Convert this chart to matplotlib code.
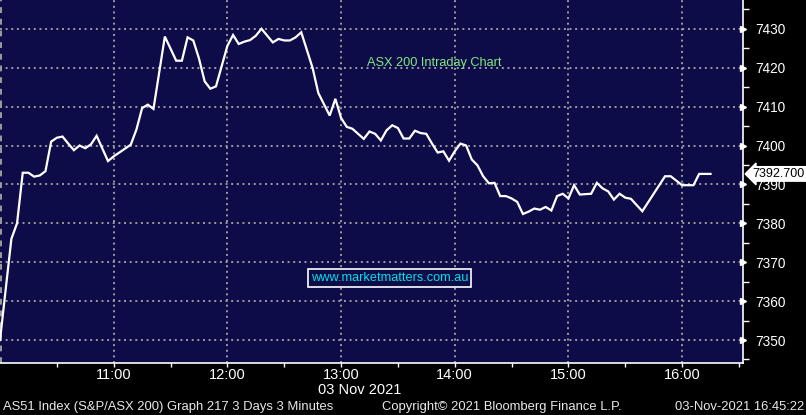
import matplotlib.pyplot as plt
from matplotlib.ticker import FixedLocator, MultipleLocator
from matplotlib.transforms import blended_transform_factory

# minutos desde as 10:00 (barras de 3 minutos) e nivel do indice
minutos = [0, 6, 9, 12, 15, 18, 21, 24, 27, 30, 33, 36, 39, 42, 45, 48, 51, 57, 60,
           63, 69, 72, 75, 78, 81, 87, 93, 96, 99, 102, 105, 108, 111, 114, 120,
           123, 126, 129, 132, 135, 138, 144, 147, 150, 153, 156, 159, 165, 168,
           174, 177, 180, 183, 186, 192, 195, 198, 201, 204, 207, 210, 213, 216,
           219, 222, 225, 228, 231, 234, 237, 240, 243, 246, 249, 252, 255, 258,
           261, 264, 267, 270, 273, 276, 279, 282, 285, 288, 291, 294, 297, 300,
           303, 306, 312, 315, 318, 321, 324, 327, 330, 333, 339, 345, 351, 354,
           360, 366, 369, 375]
niveis = [7350.0, 7376.0, 7380.0, 7393.0, 7393.0, 7392.0, 7392.3, 7393.4, 7401.0,
          7402.0, 7402.3, 7400.5, 7398.8, 7400.0, 7399.3, 7400.3, 7402.5, 7396.0,
          7397.2, 7398.2, 7400.2, 7404.1, 7409.6, 7410.5, 7409.4, 7428.0, 7421.8,
          7421.8, 7427.8, 7427.0, 7422.4, 7416.5, 7414.6, 7415.2, 7425.6, 7428.4,
          7426.1, 7426.7, 7427.1, 7428.2, 7430.0, 7426.5, 7427.4, 7427.0, 7427.0,
          7427.8, 7429.1, 7419.9, 7413.5, 7407.7, 7412.0, 7407.1, 7404.8, 7404.3,
          7401.7, 7403.6, 7403.0, 7401.3, 7403.9, 7405.2, 7404.5, 7401.8, 7401.8,
          7403.8, 7403.2, 7403.0, 7400.5, 7398.2, 7398.5, 7396.1, 7398.5, 7400.5,
          7400.0, 7396.4, 7394.9, 7392.1, 7390.3, 7390.4, 7387.0, 7387.0, 7386.4,
          7385.5, 7382.4, 7383.0, 7383.8, 7383.5, 7384.2, 7383.3, 7387.0, 7387.6,
          7386.4, 7389.8, 7387.4, 7387.6, 7390.4, 7389.0, 7388.2, 7386.1, 7387.6,
          7386.6, 7386.3, 7383.1, 7387.6, 7392.1, 7392.1, 7389.8, 7389.8, 7392.7,
          7392.7]

horas_pos = [60, 120, 180, 240, 300, 360]
horas_txt = ["11:00", "12:00", "13:00", "14:00", "15:00", "16:00"]
niveis_y = [7350, 7360, 7370, 7380, 7390, 7400, 7410, 7420, 7430]
ultimo = "7392.700"

plt.rcParams['font.family'] = ['Liberation Sans', 'DejaVu Sans']

fundo = "#0e0c48"
cinza = "#9c9c9c"
fig = plt.figure(figsize=(8.06, 4.15), dpi=100, facecolor="black")
ax = fig.add_axes([0, 0.1253, 0.9215, 0.8747])
ax.set_facecolor(fundo)

ax.plot(minutos, niveis, color="white", linewidth=1.6, solid_joinstyle="miter")

ax.set_xlim(0, 392)
ax.set_ylim(7344.1, 7437.4)

# grade pontilhada
for x in horas_pos:
    ax.axvline(x, color=cinza, linewidth=1.4, linestyle=(0, (1, 1.9)), zorder=0)
ax.axvline(0.4, color=cinza, linewidth=1.4, linestyle=(0, (3, 3)), zorder=0)
for y in niveis_y:
    ax.axhline(y, color=cinza, linewidth=1.4, linestyle=(0, (1, 1.9)), zorder=0)

# eixo x
ax.xaxis.set_major_locator(FixedLocator(horas_pos))
ax.set_xticklabels(horas_txt)
ax.xaxis.set_minor_locator(FixedLocator([30, 90, 150, 210, 270, 330, 390]))
ax.tick_params(axis="x", which="both", colors="white", labelcolor="white",
               labelsize=10.5, direction="out", length=3, width=1, pad=0.5)

# eixo y a direita
ax.yaxis.tick_right()
ax.yaxis.set_major_locator(FixedLocator(niveis_y))
ax.yaxis.set_minor_locator(MultipleLocator(5))
ax.tick_params(axis="y", which="minor", colors="white", direction="out", length=4, width=1)
ax.tick_params(axis="y", which="major", colors="white", labelcolor="white",
               labelsize=9.8, direction="out", length=0, pad=9)
tr = blended_transform_factory(ax.transAxes, ax.transData)
ax.plot([1.0] * len(niveis_y), niveis_y, linestyle="none", marker=">", markersize=5,
        color="white", transform=tr, clip_on=False)

for lado in ["top", "left"]:
    ax.spines[lado].set_visible(False)
for lado in ["bottom", "right"]:
    ax.spines[lado].set_color("white")
    ax.spines[lado].set_linewidth(1.2)

# ultimo valor
ax.text(1.0135, niveis[-1], ultimo, transform=tr, va="center", ha="left",
        fontsize=9, color="black",
        bbox=dict(boxstyle="larrow,pad=0.1", fc="white", ec="white"))

# anotacoes
ax.text(229, 7421.2, "ASX 200 Intraday Chart", color="#80ea80", fontsize=9.2,
        ha="center", va="center")
ax.text(205.5, 7365.9, "www.marketmatters.com.au", color="#00e0e8", fontsize=9.2,
        ha="center", va="center",
        bbox=dict(boxstyle="square,pad=0.22", fc=fundo, ec="white", lw=1.2))

# rodape
fig.text(360 / 806, 1 - 390 / 415, "03 Nov 2021", color="white", fontsize=10.5,
         ha="center", va="center")
fig.text(3 / 806, 1 - 407 / 415, "AS51 Index (S&P/ASX 200) Graph 217 3 Days 3 Minutes",
         color="#e8e8e8", fontsize=9.4, ha="left", va="center")
fig.text(382 / 806, 1 - 407 / 415, "Copyright\u00a9 2021 Bloomberg Finance L.P.",
         color="#e8e8e8", fontsize=9.4, ha="left", va="center")
fig.text(804 / 806, 1 - 407 / 415, "03-Nov-2021 16:45:22",
         color="#e8e8e8", fontsize=9.4, ha="right", va="center")

fig.savefig("out.png", dpi=100, facecolor="black")
